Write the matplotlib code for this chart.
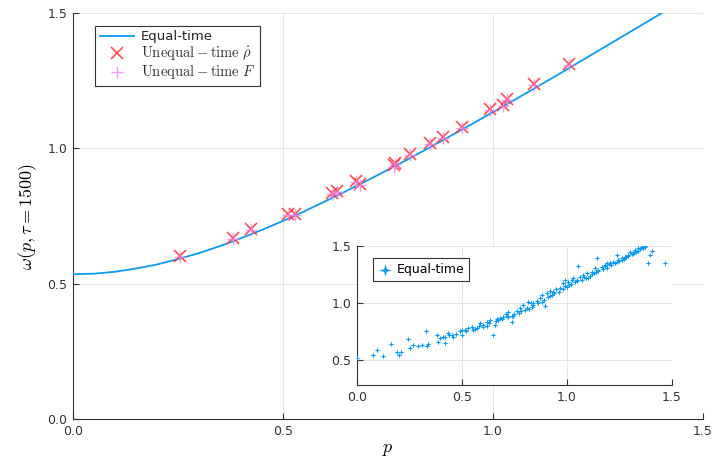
import matplotlib
matplotlib.use("Agg")
import matplotlib.pyplot as plt
from matplotlib.path import Path
import numpy as np

plt.rcParams['mathtext.fontset'] = 'cm'
plt.rcParams['font.family'] = ['DejaVu Sans']

# Equal-time dispersion curve
curve_p = [0.0, 0.05, 0.1, 0.15, 0.2, 0.25, 0.3, 0.35, 0.4, 0.45, 0.5, 0.55, 0.6, 0.65, 0.7,
           0.75, 0.8, 0.85, 0.9, 0.95, 1.0, 1.05, 1.1, 1.15, 1.2, 1.25, 1.3, 1.35, 1.402]
curve_w = [0.535, 0.537, 0.544, 0.556, 0.571, 0.591, 0.613, 0.639, 0.668, 0.699, 0.732, 0.767,
           0.804, 0.842, 0.881, 0.921, 0.962, 1.004, 1.047, 1.090, 1.134, 1.178, 1.223, 1.268,
           1.314, 1.360, 1.406, 1.452, 1.500]

# Unequal-time markers
rho_p = [0.256, 0.380, 0.425, 0.511, 0.529, 0.616, 0.629, 0.675, 0.683, 0.767, 0.765, 0.802,
         0.851, 0.880, 0.926, 0.994, 1.023, 1.034, 1.098, 1.181]
rho_w = [0.604, 0.668, 0.702, 0.757, 0.759, 0.836, 0.841, 0.879, 0.870, 0.947, 0.937, 0.979,
         1.019, 1.042, 1.079, 1.147, 1.159, 1.184, 1.237, 1.311]
F_p = rho_p
F_w = [0.600, 0.665, 0.698, 0.753, 0.755, 0.832, 0.837, 0.875, 0.866, 0.943, 0.933, 0.975,
       1.015, 1.038, 1.075, 1.143, 1.155, 1.180, 1.233, 1.307]

# Inset scatter (equal-time)
ins_p = [0.0, 0.078, 0.097, 0.125, 0.162, 0.19, 0.2, 0.21, 0.244, 0.252, 0.265, 0.292, 0.308,
         0.327, 0.335, 0.34, 0.379, 0.384, 0.395, 0.411, 0.419, 0.435, 0.451, 0.459, 0.49, 0.498,
         0.514, 0.53, 0.554, 0.57, 0.586, 0.602, 0.617, 0.633, 0.649, 0.657, 0.665, 0.681, 0.697,
         0.713, 0.721, 0.737, 0.744, 0.76, 0.776, 0.792, 0.8, 0.816, 0.832, 0.84, 0.856, 0.871,
         0.879, 0.895, 0.903, 0.919, 0.935, 0.948, 0.967, 0.983, 0.99, 1.006, 1.022, 1.03, 1.046,
         1.054, 1.062, 1.078, 1.094, 1.102, 1.117, 1.133, 1.141, 1.149, 1.165, 1.181, 1.189,
         1.205, 1.221, 1.237, 1.244, 1.26, 1.276, 1.292, 1.3, 1.316, 1.324, 1.338, 1.356, 1.371,
         1.387, 1.395, 1.403, 1.467,
         0.42, 0.47, 0.52, 0.56, 0.60, 0.63, 0.66, 0.69, 0.72, 0.75, 0.78, 0.81, 0.84, 0.86,
         0.89, 0.91, 0.93, 0.96, 0.98, 1.00, 1.01, 1.04, 1.07, 1.09, 1.11, 1.13, 1.15, 1.17,
         1.19, 1.21, 1.23, 1.25, 1.27, 1.29, 1.31, 1.33, 1.35, 1.37, 0.55, 0.62, 0.71, 0.77,
         0.83, 0.88, 0.94, 0.99, 1.05, 1.12, 1.18, 1.24, 1.28, 1.34, 0.44, 0.50, 0.58, 0.67,
         0.74, 0.82, 0.92, 1.02, 1.08, 1.14, 1.20, 1.26, 1.32, 1.36]
ins_w = [0.515, 0.544, 0.588, 0.535, 0.637, 0.573, 0.544, 0.567, 0.684, 0.602, 0.632, 0.626,
         0.632, 0.757, 0.626, 0.64, 0.719, 0.661, 0.69, 0.705, 0.646, 0.734, 0.719, 0.699, 0.754,
         0.719, 0.763, 0.778, 0.763, 0.778, 0.822, 0.807, 0.836, 0.851, 0.719, 0.807, 0.857,
         0.865, 0.874, 0.886, 0.924, 0.836, 0.886, 0.933, 0.953, 0.982, 0.939, 1.012, 0.968,
         0.997, 1.02, 1.041, 1.07, 0.974, 1.085, 1.108, 1.1, 1.12, 1.129, 1.173, 1.202, 1.187,
         1.202, 1.216, 1.202, 1.325, 1.231, 1.246, 1.26, 1.216, 1.275, 1.304, 1.392, 1.289,
         1.319, 1.333, 1.348, 1.348, 1.363, 1.421, 1.377, 1.392, 1.406, 1.421, 1.45, 1.436,
         1.465, 1.48, 1.494, 1.5, 1.348, 1.421, 1.459, 1.354,
         0.70, 0.73, 0.75, 0.77, 0.79, 0.82, 0.84, 0.86, 0.88, 0.90, 0.93, 0.96, 0.98, 1.00,
         1.03, 1.05, 1.07, 1.10, 1.12, 1.14, 1.16, 1.18, 1.20, 1.22, 1.24, 1.26, 1.28, 1.30,
         1.31, 1.33, 1.35, 1.37, 1.39, 1.41, 1.43, 1.45, 1.47, 1.49, 0.79, 0.80, 0.90, 0.91,
         1.00, 1.01, 1.09, 1.15, 1.19, 1.25, 1.32, 1.36, 1.40, 1.46, 0.72, 0.76, 0.80, 0.85,
         0.89, 0.95, 1.06, 1.17, 1.23, 1.27, 1.34, 1.38, 1.44, 1.48]

main_ticks = [0.0, 0.5, 1.0, 1.5]
tick_labels = ['0.0', '0.5', '1.0', '1.5']
inset_yticks = [0.5, 1.0, 1.5]
inset_ylabels = ['0.5', '1.0', '1.5']

blue = '#0A9BF5'

star4 = Path([(0, 1), (0.22, 0.22), (1, 0), (0.22, -0.22), (0, -1), (-0.22, -0.22),
              (-1, 0), (-0.22, 0.22), (0, 1)],
             [Path.MOVETO] + [Path.LINETO] * 7 + [Path.CLOSEPOLY])

fig = plt.figure(figsize=(7.12, 4.65), dpi=100)
ax = fig.add_axes([0.1025, 0.0989, 0.8848, 0.873])

ax.plot(curve_p, curve_w, color=blue, lw=1.3, label='Equal-time', zorder=3)
ax.plot(rho_p, rho_w, ls='none', marker='x', ms=8, mew=1.2, color='#ff3b3b',
        alpha=0.9, label=r'$\mathrm{Unequal-time}\ \dot{\rho}$', zorder=4)
ax.plot(F_p, F_w, ls='none', marker='+', ms=8, mew=1.0, color='#ee82ee',
        alpha=0.8, label=r'$\mathrm{Unequal-time}\ F$', zorder=5)

ax.set_xlim(0, 1.5)
ax.set_ylim(0, 1.5)
ax.set_xticks(main_ticks)
ax.set_xticklabels(tick_labels)
ax.set_yticks(main_ticks)
ax.set_yticklabels(tick_labels)
ax.grid(True, color='#e6e6e6', lw=0.7)
ax.set_axisbelow(True)
for s in ['top', 'right']:
    ax.spines[s].set_visible(False)
for s in ['left', 'bottom']:
    ax.spines[s].set_color('#333333')
ax.tick_params(direction='in', length=4, labelsize=9, colors='#333333', pad=4)
ax.set_xlabel(r'$p$', fontsize=13, labelpad=2)
ax.set_ylabel(r'$\omega(p,\tau=1500)$', fontsize=13, labelpad=6)

leg = ax.legend(loc='upper left', bbox_to_anchor=(0.025, 0.985), fontsize=9.5,
                frameon=True, fancybox=False, framealpha=1, edgecolor='#333333',
                handlelength=2.6, borderpad=0.35, labelspacing=0.05, handletextpad=0.5)
leg.get_frame().set_linewidth(0.8)
for t in leg.get_texts()[1:]:
    t.set_fontsize(10.5)
    t.set_color('#333333')
leg.get_texts()[0].set_color('#222222')

# Inset
ins = fig.add_axes([0.5014, 0.172, 0.4424, 0.299])
ins.scatter(ins_p, ins_w, marker=star4, s=20, color=blue, linewidths=0, label='Equal-time',
            zorder=3)
ins.set_xlim(0, 1.5)
ins.set_ylim(0.28, 1.5)
ins.set_xticks(main_ticks)
ins.set_xticklabels(tick_labels)
ins.set_yticks(inset_yticks)
ins.set_yticklabels(inset_ylabels)
ins.grid(True, color='#e6e6e6', lw=0.7)
ins.set_axisbelow(True)
for s in ['top', 'right']:
    ins.spines[s].set_visible(False)
for s in ['left', 'bottom']:
    ins.spines[s].set_color('#333333')
ins.tick_params(direction='in', length=4, labelsize=9, colors='#333333', pad=4)
ileg = ins.legend(loc='upper left', bbox_to_anchor=(0.03, 0.96), fontsize=9, frameon=True,
                  fancybox=False, framealpha=1, edgecolor='#333333', markerscale=2.0,
                  handletextpad=0.3, borderpad=0.4, handlelength=1.2)
ileg.get_frame().set_linewidth(0.8)

fig.savefig('out.png', dpi=100)
